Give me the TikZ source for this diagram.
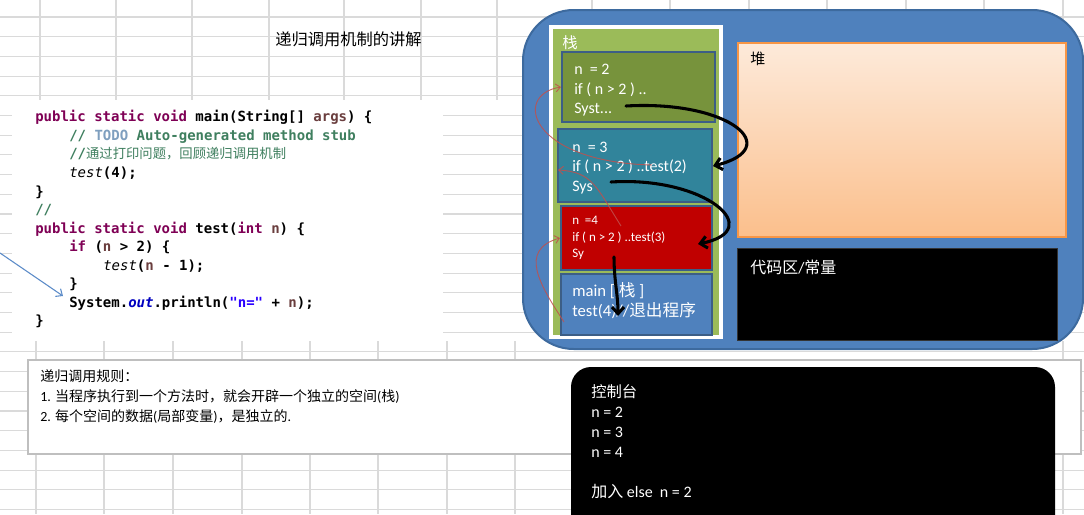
\documentclass[tikz,border=0pt]{standalone}
\usepackage{fontspec}
\setmainfont{Carlito}
\setmonofont{DejaVu Sans Mono}
\newfontfamily\cjk{Noto Sans CJK SC}
\usetikzlibrary{arrows.meta,fit}
\definecolor{gridc}{HTML}{DADADA}
\definecolor{memblue}{HTML}{4F81BD}
\definecolor{memline}{HTML}{3D6A9E}
\definecolor{stackgreen}{HTML}{9BBB59}
\definecolor{frolive}{HTML}{77933C}
\definecolor{frteal}{HTML}{31849B}
\definecolor{frred}{HTML}{C00000}
\definecolor{frline}{HTML}{3C5E86}
\definecolor{heaptop}{HTML}{FDEADA}
\definecolor{heapbot}{HTML}{FBBF8C}
\definecolor{heapline}{HTML}{F79646}
\definecolor{kwc}{HTML}{7F0055}
\definecolor{varc}{HTML}{6A3E3E}
\definecolor{cmc}{HTML}{3F7F5F}
\definecolor{todoc}{HTML}{7F9FBF}
\definecolor{strc}{HTML}{2A00FF}
\definecolor{outc}{HTML}{0000C0}
\definecolor{redarrow}{HTML}{C0504D}
\definecolor{bluearrow}{HTML}{5B8BC8}
\definecolor{rulebox}{HTML}{BFBFBF}
\newcommand{\kw}[1]{\textcolor{kwc}{#1}}
\newcommand{\vr}[1]{\textcolor{varc}{#1}}
\newcommand{\cm}[1]{\textcolor{cmc}{#1}}
\tikzset{
  txt/.style={inner sep=0pt, anchor=base west},
  codeline/.style={txt, font=\ttfamily\bfseries\fontsize{10.5}{12}\selectfont},
  wtxt/.style={txt, text=white, font=\fontsize{12}{14}\selectfont},
  smalltxt/.style={txt, text=white, font=\fontsize{9.75}{11}\selectfont},
  maintxt/.style={txt, text=white, font=\fontsize{12.5}{14}\selectfont},
  ruletxt/.style={txt, font=\fontsize{10.5}{12}\selectfont},
  frame/.style={inner sep=0pt, draw=frline, line width=1.5pt},
  blackarrow/.style={line width=2.3pt, line cap=round, -{Straight Barb[length=5pt,width=9pt,line width=2.3pt]}},
  redarr/.style={draw=redarrow, draw opacity=0.85, line width=0.7pt, -{Straight Barb[length=3.5pt,width=6pt]}},
}
\begin{document}
\begin{tikzpicture}[x=0.75pt,y=-0.75pt]
\useasboundingbox (0,0) rectangle (1084,514);
\fill[white] (0,0) rectangle (1084,514);
% spreadsheet grid
\foreach \k in {0,...,25} {\draw[gridc, line width=0.8pt] (0,{17+19.7*\k}) -- (1084,{17+19.7*\k});}
\foreach \x in {40,116,192,269,344,421,497} {\draw[gridc, line width=0.8pt] (\x,0) -- (\x,100);}
\foreach \x in {592,670,749,827,906,984,1063} {\draw[gridc, line width=0.8pt] (\x,0) -- (\x,40);}
\foreach \x in {36,104,173,242,310,378,447,515,1063} {\draw[gridc, line width=0.8pt] (\x,341) -- (\x,514);}
% code panel
\fill[white] (12,100) rectangle (443,341);
% title
\node[txt, font=\cjk\fontsize{12.2}{14}\selectfont] (title) at (275,45.5) {递归调用机制的讲解};
% code
\node[codeline] (c1) at (35,121.5) {\kw{public static void} main(String[] \vr{args}) \{};
\node[codeline] (c2) at (69,140) {\cm{//\ }\textcolor{todoc}{TODO}\cm{\ Auto-generated method stub}};
\node[codeline] (c3) at (69,158.5) {\cm{//{\cjk\mdseries\fontsize{10}{12}\selectfont 通过打印问题，回顾递归调用机制}}};
\node[codeline] (c4) at (69,177) {{\mdseries\itshape test}(4);};
\node[codeline] (c5) at (35,196) {\}};
\node[codeline] (c6) at (35,214.5) {\cm{//}};
\node[codeline] (c7) at (35,233) {\kw{public static void} test(\kw{int} \vr{n}) \{};
\node[codeline] (c8) at (69,251.5) {\kw{if} (\vr{n} > 2) \{};
\node[codeline] (c9) at (103,270) {{\mdseries\itshape test}(\vr{n} - 1);};
\node[codeline] (c10) at (69,288.5) {\}};
\node[codeline] (c11) at (69,307) {System.\textcolor{outc}{\itshape out}.println(\textcolor{strc}{"n="} + \vr{n});};
\node[codeline] (c12) at (35,325.5) {\}};
% blue arrow
\coordinate (bstart) at (0,253);
\coordinate (btip) at (63,296);
\draw[bluearrow, line width=0.8pt, -{Straight Barb[length=4pt,width=7pt]}] (bstart) -- (btip);
% memory box
\node[fit={(523,10) (1083,349)}, inner sep=0pt, rounded corners=38pt, fill=memblue, draw=memline, line width=1.5pt] (mem) {};
% stack
\node[fit={(551,27) (721,337)}, inner sep=0pt, fill=stackgreen, draw=white, line width=3pt] (stack) {};
\node[txt, text=white, font=\cjk\fontsize{11.5}{13}\selectfont] (stacklbl) at (562,48) {栈};
\node[fit={(562,52) (715,122)}, frame, fill=frolive] (f2) {};
\node[fit={(558,129) (712,202)}, frame, fill=frteal] (f3) {};
\node[fit={(561,206) (712,270)}, frame, fill=frred] (f4) {};
\node[fit={(561,274) (712,335)}, frame, fill=memblue] (fm) {};
% frame texts
\node[wtxt] (t2a) at (574,74) {n\ \ = 2};
\node[wtxt] (t2b) at (574,94) {if ( n > 2 ) ..};
\node[wtxt] (t2c) at (574,113) {Syst...};
\node[wtxt] (t3a) at (572,152) {n\ \ = 3};
\node[wtxt] (t3b) at (572,171) {if ( n > 2 ) ..test(2)};
\node[wtxt] (t3c) at (572,191) {Sys};
\node[smalltxt] (t4a) at (572,224) {n \ =4};
\node[smalltxt] (t4b) at (572,241) {if ( n > 2 ) ..test(3)};
\node[smalltxt] (t4c) at (572,257) {Sy};
\node[maintxt] (tma) at (572,296) {main [ {\cjk 栈} ]};
\node[maintxt] (tmb) at (572,316) {test(4)//{\cjk 退出程序}};
% heap and code area
\node[fit={(738,43) (1066,237)}, inner sep=0pt, top color=heaptop, bottom color=heapbot, draw=heapline, line width=0.8pt] (heap) {};
\node[txt, font=\cjk\fontsize{11.25}{13}\selectfont] (heaplbl) at (750,64) {堆};
\node[fit={(737,248) (1057,340)}, inner sep=0pt, fill=black, draw=black!80] (codearea) {};
\node[txt, text=white, font=\fontsize{12}{14}\selectfont] (codelbl) at (750,273) {{\cjk 代码区}/{\cjk 常量}};
% black arrows
\coordinate (a1s) at (626,106);
\coordinate (a1e) at (713,166);
\coordinate (a2s) at (611,182);
\coordinate (a2e) at (698,244);
\coordinate (a3s) at (614,257);
\coordinate (a3e) at (618,316);
\draw[blackarrow] (a1s) .. controls (730,100) and (785,148) .. (a1e);
\draw[blackarrow] (a2s) .. controls (705,176) and (768,230) .. (a2e);
\draw[blackarrow] (a3s) .. controls (614,280) and (618,295) .. (a3e);
% red arrows
\coordinate (r1s) at (652,165);
\coordinate (r1e) at (561,87);
\coordinate (r2s) at (621,226);
\coordinate (r2e) at (558,170);
\coordinate (r3s) at (564,322);
\coordinate (r3e) at (560,238);
\draw[redarr] (r1s) .. controls (530,162) and (512,95) .. (r1e);
\draw[redarr] (r2s) .. controls (596,186) and (592,172) .. (r2e);
\draw[redarr] (r3s) .. controls (540,285) and (518,250) .. (r3e);
% rules box
\node[fit={(28,360) (1081,454)}, inner sep=0pt, fill=white, draw=rulebox, line width=0.8pt] (rules) {};
\node[ruletxt, font=\cjk\fontsize{10.5}{12}\selectfont] (rule0) at (40,381) {递归调用规则：};
\node[ruletxt] (rule1) at (40,401) {1. {\cjk 当程序执行到一个方法时，就会开辟一个独立的空间}({\cjk 栈})};
\node[ruletxt] (rule2) at (40,421) {2. {\cjk 每个空间的数据}({\cjk 局部变量}){\cjk ，是独立的}.};
% console
\node[fit={(571,367) (1055,540)}, inner sep=0pt, rounded corners=15pt, fill=black] (console) {};
\node[wtxt, font=\cjk\fontsize{11.5}{13}\selectfont] (con0) at (591,397) {控制台};
\node[wtxt] (con1) at (591,417) {n = 2};
\node[wtxt] (con2) at (591,437) {n = 3};
\node[wtxt] (con3) at (591,457) {n = 4};
\node[wtxt] (con4) at (591,497) {{\cjk 加入} else\ \ n = 2};
\end{tikzpicture}
\end{document}
